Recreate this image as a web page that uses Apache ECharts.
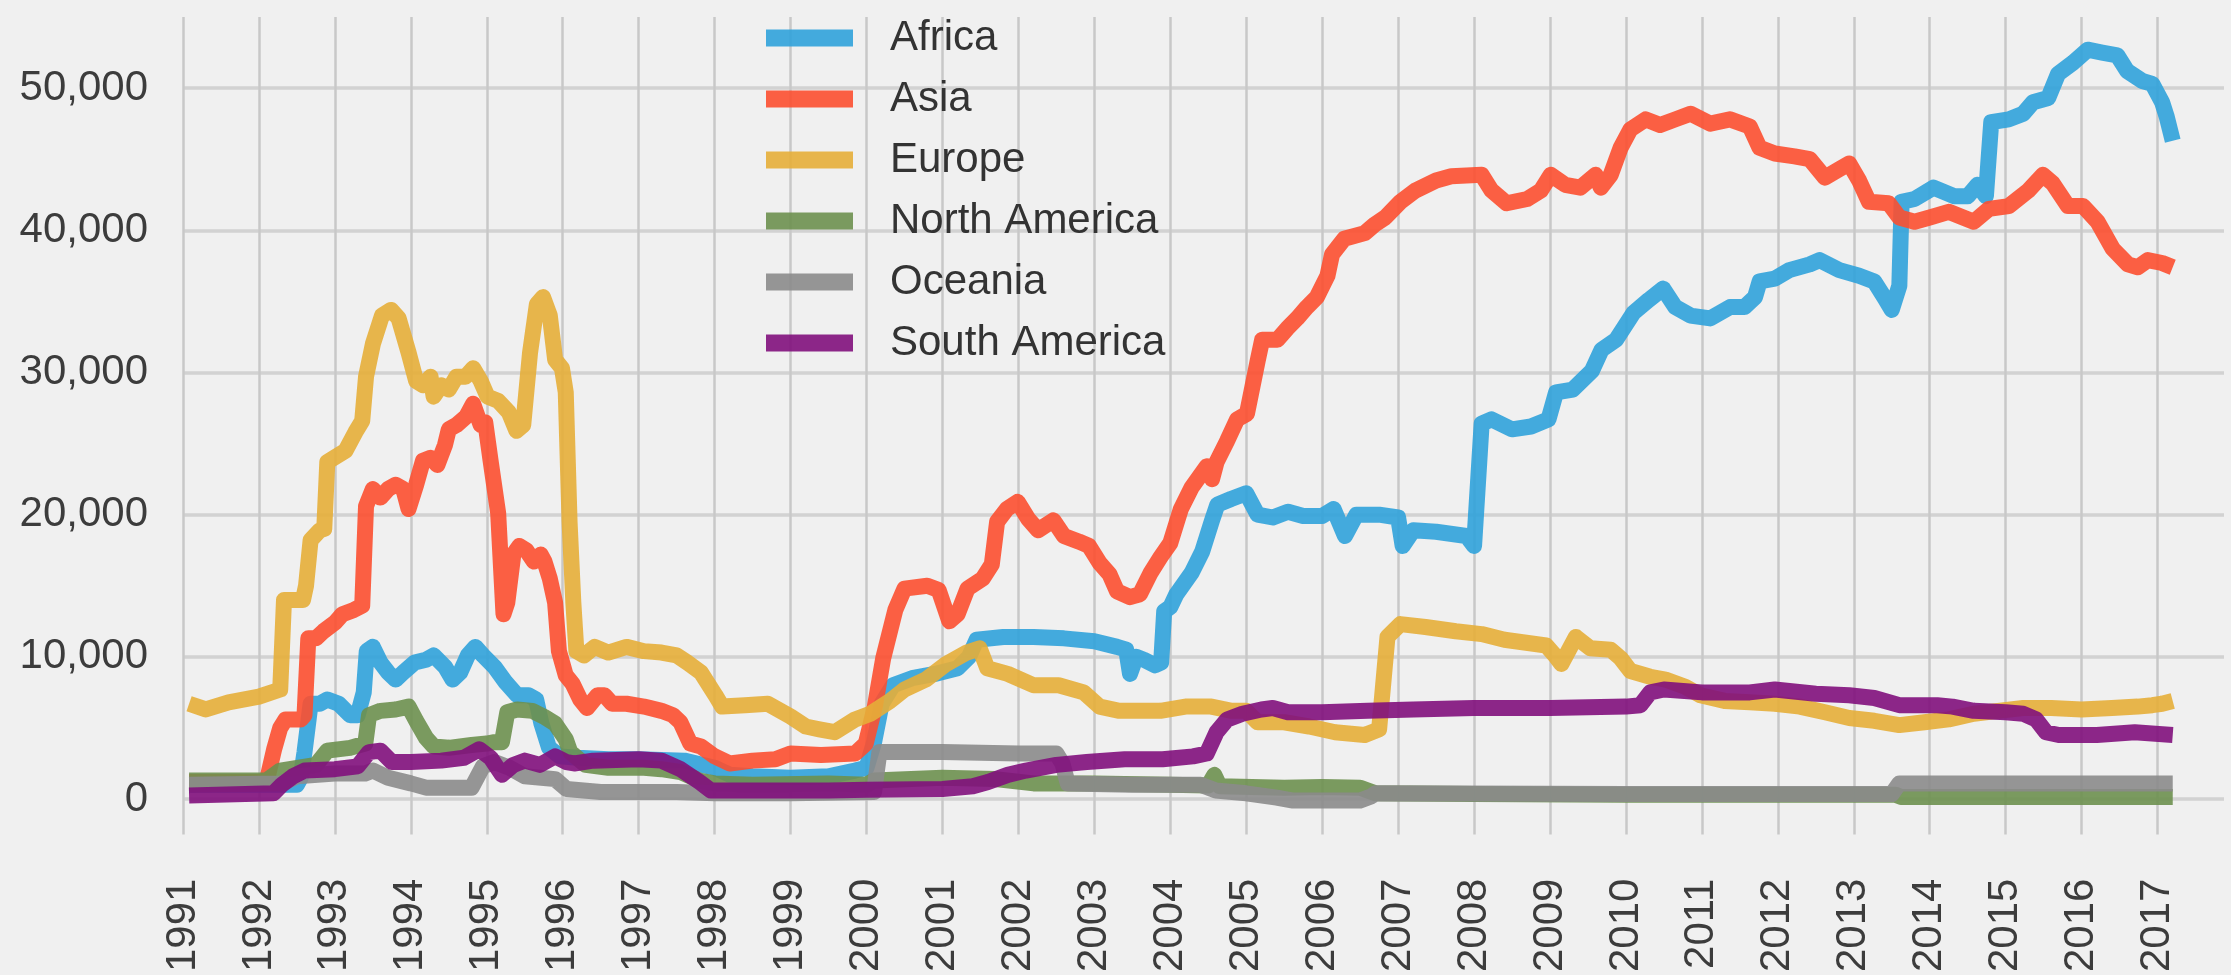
<!DOCTYPE html>
<html>
<head>
<meta charset="utf-8">
<script src="https://cdn.jsdelivr.net/npm/echarts@6/dist/echarts.min.js"></script>
<style>
html,body{margin:0;padding:0;background:#f0f0f0;}
#chart{width:2231px;height:975px;}
</style>
</head>
<body>
<div id="chart"></div>
<script>
const seriesNames = ['Africa','Asia','Europe','North America','Oceania','South America'];
const seriesColors = ['#30a2da','#fc4f30','#e5ae38','#6d904f','#8b8b8b','#810f7c'];
const yTickValues = [0,10000,20000,30000,40000,50000];

const africa = [[1991.08,1000],[1992.5,1000],[1992.55,1500],[1992.6,3300],[1992.68,6700],[1992.8,6700],[1992.9,7000],[1993.05,6700],[1993.2,5900],[1993.3,5900],[1993.38,7500],[1993.42,10400],[1993.5,10700],[1993.6,9600],[1993.7,8900],[1993.8,8400],[1993.9,8900],[1994.05,9600],[1994.2,9800],[1994.3,10100],[1994.45,9300],[1994.55,8400],[1994.65,8900],[1994.75,10100],[1994.85,10700],[1994.95,10100],[1995.1,9300],[1995.25,8200],[1995.4,7300],[1995.55,7300],[1995.65,7000],[1995.72,5300],[1995.82,3600],[1995.96,3000],[1996.2,2900],[1996.6,2800],[1997.0,2800],[1997.6,2700],[1998.0,2200],[1998.2,1700],[1998.5,1600],[1999.0,1500],[1999.5,1600],[1999.85,2000],[2000.0,2200],[2000.1,4000],[2000.2,6700],[2000.35,8000],[2000.6,8500],[2000.9,8800],[2001.2,9200],[2001.35,10000],[2001.45,11200],[2001.8,11400],[2002.2,11400],[2002.6,11300],[2003.0,11100],[2003.3,10700],[2003.42,10500],[2003.47,8800],[2003.55,10000],[2003.65,9800],[2003.8,9400],[2003.88,9600],[2003.92,13200],[2004.0,13500],[2004.08,14400],[2004.28,15900],[2004.42,17400],[2004.55,19600],[2004.62,20700],[2004.8,21100],[2005.0,21500],[2005.15,20000],[2005.35,19800],[2005.55,20200],[2005.75,19900],[2006.0,19900],[2006.15,20400],[2006.3,18500],[2006.45,20000],[2006.75,20000],[2007.0,19800],[2007.06,17800],[2007.2,18900],[2007.5,18800],[2007.9,18500],[2008.0,17800],[2008.1,26400],[2008.23,26700],[2008.5,26000],[2008.75,26200],[2008.98,26700],[2009.08,28600],[2009.3,28800],[2009.55,30100],[2009.68,31600],[2009.87,32300],[2010.1,34200],[2010.3,35100],[2010.49,35900],[2010.65,34600],[2010.85,34000],[2011.11,33800],[2011.37,34600],[2011.56,34600],[2011.7,35300],[2011.76,36400],[2011.96,36600],[2012.15,37200],[2012.42,37600],[2012.55,37900],[2012.81,37200],[2013.07,36800],[2013.27,36400],[2013.4,35300],[2013.5,34400],[2013.6,36100],[2013.63,42000],[2013.8,42200],[2014.05,43000],[2014.32,42400],[2014.5,42400],[2014.63,43200],[2014.74,42400],[2014.81,47600],[2015.04,47800],[2015.23,48200],[2015.36,49000],[2015.56,49300],[2015.69,51000],[2015.89,51800],[2016.08,52700],[2016.27,52500],[2016.47,52300],[2016.6,51200],[2016.8,50500],[2016.93,50300],[2017.06,49000],[2017.12,48000],[2017.2,46300]];

const asia = [[1991.08,1200],[1992.1,1200],[1992.2,3500],[1992.28,5000],[1992.35,5600],[1992.55,5600],[1992.6,5900],[1992.65,11300],[1992.75,11300],[1992.85,11800],[1993.0,12400],[1993.1,13000],[1993.25,13300],[1993.36,13600],[1993.41,20600],[1993.5,21800],[1993.6,21200],[1993.7,21800],[1993.8,22100],[1993.9,21800],[1993.97,20400],[1994.07,22100],[1994.16,23800],[1994.26,24000],[1994.35,23500],[1994.45,24900],[1994.5,26000],[1994.6,26300],[1994.73,26900],[1994.82,27800],[1994.92,26300],[1994.98,26500],[1995.05,23800],[1995.15,20100],[1995.22,13000],[1995.27,13800],[1995.35,17200],[1995.43,17800],[1995.52,17500],[1995.62,16700],[1995.71,17200],[1995.76,16700],[1995.83,15500],[1995.9,13800],[1995.95,10400],[1996.04,8700],[1996.13,8100],[1996.23,7000],[1996.32,6400],[1996.46,7300],[1996.55,7300],[1996.65,6700],[1996.84,6700],[1997.07,6500],[1997.3,6200],[1997.45,5900],[1997.55,5400],[1997.68,3900],[1997.82,3700],[1998.0,3000],[1998.2,2500],[1998.5,2700],[1998.8,2800],[1999.0,3200],[1999.4,3100],[1999.85,3200],[1999.99,3900],[2000.11,6500],[2000.22,9900],[2000.38,13300],[2000.5,14800],[2000.8,15000],[2000.95,14700],[2001.09,12500],[2001.2,13000],[2001.33,14800],[2001.53,15500],[2001.65,16500],[2001.72,19500],[2001.85,20400],[2001.99,20900],[2002.13,19700],[2002.26,18900],[2002.46,19600],[2002.6,18500],[2002.8,18100],[2002.93,17800],[2003.07,16600],[2003.2,15800],[2003.3,14600],[2003.47,14200],[2003.6,14400],[2003.74,15900],[2003.87,17000],[2004.0,18000],[2004.14,20400],[2004.28,21900],[2004.48,23400],[2004.55,22500],[2004.61,23700],[2004.75,25200],[2004.88,26700],[2005.01,27100],[2005.15,30800],[2005.21,32300],[2005.41,32300],[2005.54,33100],[2005.67,33800],[2005.8,34600],[2005.93,35300],[2006.07,36800],[2006.13,38300],[2006.29,39400],[2006.56,39800],[2006.69,40400],[2006.83,40900],[2007.03,42000],[2007.23,42800],[2007.5,43500],[2007.7,43800],[2008.1,43900],[2008.23,42800],[2008.43,41900],[2008.7,42200],[2008.88,42800],[2009.01,43900],[2009.2,43200],[2009.4,43000],[2009.6,43900],[2009.67,43000],[2009.8,43900],[2009.93,45800],[2010.06,47100],[2010.26,47800],[2010.45,47400],[2010.65,47800],[2010.85,48200],[2011.11,47500],[2011.37,47800],[2011.63,47300],[2011.76,45800],[2011.96,45400],[2012.22,45200],[2012.42,45000],[2012.62,43700],[2012.81,44300],[2012.94,44700],[2013.07,43500],[2013.2,42000],[2013.46,41900],[2013.6,40900],[2013.8,40600],[2014.0,40900],[2014.25,41300],[2014.58,40600],[2014.78,41500],[2015.04,41700],[2015.3,42800],[2015.49,43900],[2015.62,43300],[2015.82,41700],[2016.02,41700],[2016.21,40600],[2016.41,38700],[2016.61,37600],[2016.74,37400],[2016.87,37900],[2017.06,37700],[2017.2,37400]];

const europe = [[1991.08,6700],[1991.3,6300],[1991.6,6800],[1992.0,7200],[1992.28,7700],[1992.33,14000],[1992.58,14000],[1992.62,15000],[1992.68,18200],[1992.8,18900],[1992.86,19000],[1992.9,23700],[1992.99,24000],[1993.14,24500],[1993.27,25800],[1993.36,26600],[1993.41,29700],[1993.5,32000],[1993.62,34000],[1993.74,34400],[1993.84,33800],[1993.97,31400],[1994.07,29400],[1994.16,29100],[1994.26,29700],[1994.3,28300],[1994.4,29100],[1994.5,28800],[1994.6,29700],[1994.72,29700],[1994.82,30300],[1994.92,29400],[1995.01,28300],[1995.15,28000],[1995.29,27200],[1995.39,25900],[1995.48,26300],[1995.57,31400],[1995.66,34800],[1995.74,35300],[1995.83,34000],[1995.9,30900],[1995.99,30300],[1996.04,28600],[1996.09,19500],[1996.14,13800],[1996.18,10400],[1996.28,10100],[1996.42,10700],[1996.6,10300],[1996.84,10700],[1997.07,10400],[1997.3,10300],[1997.5,10100],[1997.64,9600],[1997.82,8900],[1998.01,7300],[1998.1,6500],[1998.4,6600],[1998.7,6700],[1999.0,5800],[1999.2,5100],[1999.38,4900],[1999.58,4700],[1999.85,5600],[2000.05,6000],[2000.31,6900],[2000.5,7700],[2000.78,8400],[2001.05,9500],[2001.32,10300],[2001.49,10600],[2001.59,9200],[2001.86,8800],[2002.2,8000],[2002.53,8000],[2002.86,7500],[2003.07,6500],[2003.33,6200],[2003.87,6200],[2004.2,6500],[2004.54,6500],[2004.81,6200],[2005.0,6200],[2005.15,5400],[2005.5,5400],[2005.83,5100],[2006.17,4700],[2006.56,4500],[2006.75,4900],[2006.86,11400],[2007.03,12300],[2007.36,12100],[2007.76,11800],[2008.1,11600],[2008.4,11200],[2008.95,10800],[2009.08,10000],[2009.15,9500],[2009.34,11400],[2009.53,10600],[2009.8,10500],[2009.93,9900],[2010.06,9000],[2010.32,8600],[2010.52,8400],[2010.78,7900],[2010.98,7300],[2011.3,6900],[2011.63,6800],[2011.96,6700],[2012.29,6500],[2012.62,6100],[2012.94,5700],[2013.27,5500],[2013.6,5200],[2013.93,5400],[2014.25,5600],[2014.58,6000],[2014.9,6200],[2015.23,6400],[2015.6,6400],[2016.0,6300],[2016.4,6400],[2016.74,6500],[2016.93,6600],[2017.06,6700],[2017.2,6900]];

const northAmerica = [[1991.08,1300],[1992.1,1300],[1992.28,2000],[1992.75,2400],[1992.9,3400],[1993.2,3600],[1993.4,3900],[1993.45,5900],[1993.6,6200],[1993.8,6300],[1993.97,6500],[1994.07,5500],[1994.2,4300],[1994.3,3700],[1994.5,3600],[1994.8,3800],[1995.0,3900],[1995.1,4000],[1995.2,4000],[1995.27,6100],[1995.4,6300],[1995.6,6200],[1995.75,5800],[1995.9,5300],[1996.04,4200],[1996.1,3300],[1996.3,2400],[1996.6,2200],[1997.07,2200],[1997.3,2100],[1997.55,1900],[1997.8,1300],[1998.0,1100],[1998.5,1000],[1999.5,1100],[2000.0,1000],[2000.1,1300],[2001.0,1500],[2001.7,1400],[2002.2,1100],[2003.0,1100],[2004.0,1000],[2004.5,950],[2004.58,1700],[2004.65,900],[2005.5,800],[2006.0,850],[2006.5,800],[2006.7,400],[2008.0,350],[2010.0,300],[2012.0,300],[2013.55,300],[2013.62,150],[2017.2,150]];

const oceania = [[1991.08,1000],[1992.3,1100],[1992.5,1600],[1993.0,1800],[1993.4,1800],[1993.5,2000],[1993.7,1500],[1994.0,1100],[1994.2,800],[1994.8,800],[1994.95,2300],[1995.1,2600],[1995.3,2200],[1995.5,1600],[1995.9,1400],[1996.05,700],[1996.5,500],[1997.5,500],[1998.0,400],[1999.0,400],[2000.1,500],[2000.17,3300],[2001.0,3300],[2002.0,3200],[2002.5,3200],[2002.58,2500],[2002.65,1100],[2003.5,1000],[2004.4,1000],[2004.6,600],[2005.0,400],[2005.4,100],[2005.6,-100],[2006.5,-100],[2006.65,200],[2006.7,400],[2010.0,350],[2013.5,350],[2013.6,1100],[2017.2,1100]];

const southAmerica = [[1991.08,250],[1992.19,400],[1992.3,1000],[1992.45,1600],[1992.6,2000],[1993.0,2100],[1993.3,2300],[1993.45,3300],[1993.6,3400],[1993.75,2600],[1994.0,2600],[1994.4,2700],[1994.7,2900],[1994.9,3500],[1995.05,2900],[1995.2,1700],[1995.35,2400],[1995.5,2700],[1995.7,2400],[1995.9,3000],[1996.05,2600],[1996.15,2500],[1996.4,2700],[1997.0,2800],[1997.3,2700],[1997.55,2100],[1997.8,1200],[1997.95,600],[1998.5,600],[1999.5,600],[2000.0,650],[2001.0,700],[2001.4,900],[2001.6,1200],[2001.86,1700],[2002.1,2000],[2002.5,2400],[2002.9,2600],[2003.4,2800],[2003.9,2800],[2004.3,3000],[2004.48,3200],[2004.61,4700],[2004.75,5600],[2004.95,6000],[2005.2,6300],[2005.35,6400],[2005.55,6100],[2006.0,6100],[2006.6,6200],[2007.2,6300],[2008.0,6400],[2009.0,6400],[2010.0,6500],[2010.19,6600],[2010.32,7500],[2010.5,7700],[2011.0,7500],[2011.63,7500],[2011.96,7700],[2012.5,7400],[2012.94,7300],[2013.27,7100],[2013.6,6600],[2014.1,6600],[2014.3,6500],[2014.58,6200],[2015.0,6100],[2015.23,6000],[2015.4,5600],[2015.53,4700],[2015.7,4500],[2016.2,4500],[2016.7,4700],[2017.2,4500]];

const allData = [africa, asia, europe, northAmerica, oceania, southAmerica];
const FONT = "'Liberation Sans', Arial, Helvetica, sans-serif";
const T = 'rgba(0,0,0,0)';

const chart = echarts.init(document.getElementById('chart'), null, {renderer:'canvas'});
chart.setOption({
  backgroundColor: '#f0f0f0',
  animation: false,
  grid: {left: 183, top: 17, width: 2041, height: 825, containLabel: false},
  legend: {
    orient: 'vertical', left: 761, top: 12,
    itemWidth: 87, itemHeight: 17, itemGap: 19,
    icon: 'rect',
    selectedMode: false,
    itemStyle: {opacity: 0.9},
    textStyle: {fontFamily: FONT, fontSize: 42, lineHeight: 42, color: '#333', padding: [0,0,0,32]},
    data: seriesNames
  },
  xAxis: {
    type: 'value', min: 1991, max: 2017.875, interval: 0.125,
    axisLine: {show: false}, axisTick: {show: false},
    axisLabel: {
      rotate: 90, margin: 44, fontFamily: FONT, fontSize: 42, color: '#3c3c3c',
      formatter: v => (Math.abs(v - Math.round(v)) < 1e-6 && v <= 2017.5) ? String(Math.round(v)) : ''
    },
    splitLine: {show: true, lineStyle: {width: 2.5, color: ['#c8c8c8', T, T, T, T, T, T, T]}}
  },
  yAxis: {
    type: 'value', min: -2500, max: 55000, interval: 2500,
    axisLine: {show: false}, axisTick: {show: false},
    axisLabel: {
      margin: 35, fontFamily: FONT, fontSize: 42, color: '#3c3c3c',
      formatter: v => yTickValues.indexOf(v) >= 0 ? v.toLocaleString('en-US') : ''
    },
    splitLine: {show: true, lineStyle: {width: 3.5, color: [T, '#d2d2d2', T, T]}}
  },
  series: seriesNames.map((name, i) => ({
    name: name,
    type: 'line',
    data: allData[i],
    showSymbol: false,
    symbol: 'none',
    color: seriesColors[i],
    lineStyle: {width: 16, color: seriesColors[i], opacity: 0.9, join: 'round', cap: 'butt'},
    itemStyle: {color: seriesColors[i]},
    emphasis: {disabled: true}
  }))
});
</script>
</body>
</html>
